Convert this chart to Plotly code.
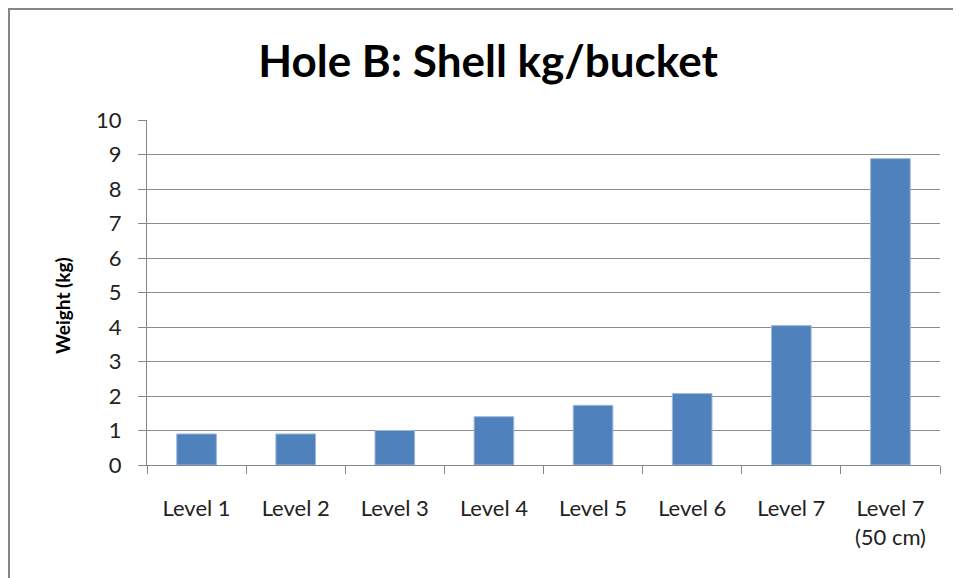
import plotly.graph_objects as go

categories = ["Level 1", "Level 2", "Level 3", "Level 4", "Level 5", "Level 6", "Level 7", "Level 7<br>(50 cm)"]
weights = [0.9, 0.9, 1.0, 1.4, 1.73, 2.07, 4.04, 8.88]
y_ticks = list(range(0, 11))

# page body has an 8px offset; figure is sized to fit the 961x578 window
OFF = 8
W, H = 961 - OFF, 578 - OFF
L, R, T, B = 147 - OFF, 21, 120 - OFF, 113
pw, ph = W - L - R, H - T - B

fig = go.Figure(go.Bar(
    x=categories, y=weights,
    marker=dict(color="#4F81BD", line=dict(color="#9DB8DD", width=1)),
))

fig.update_layout(
    width=W, height=H,
    margin=dict(l=L, r=R, t=T, b=B),
    paper_bgcolor="white", plot_bgcolor="white",
    bargap=0.6,
    showlegend=False,
    title=dict(text="<b>Hole B: Shell kg/bucket</b>", x=(488 - OFF) / W, xanchor="center",
               y=1 - (62 - OFF) / H, yanchor="middle",
               font=dict(family="Lato", size=44, color="black")),
    font=dict(family="Lato", color="black"),
)
fig.update_xaxes(
    type="category", tickson="boundaries", ticks="outside", ticklen=8,
    tickcolor="#868686", showline=True, linecolor="#868686", linewidth=1,
    tickfont=dict(size=22, family="Lato", color="#222"),
    ticklabelstandoff=24,
)
fig.update_yaxes(
    range=[0, 10], tickvals=y_ticks, ticks="outside", ticklen=8,
    tickcolor="#868686", showline=True, linecolor="#868686", linewidth=1,
    showgrid=True, gridcolor="#8C8C8C", gridwidth=1,
    tickfont=dict(size=22, family="Lato", color="#222"),
    ticklabelstandoff=12,
    zeroline=False,
)
# y-axis title placed like the original (slightly below the plot centre)
fig.add_annotation(text="<b>Weight (kg)</b>", textangle=-90, showarrow=False,
                   xref="paper", yref="paper",
                   x=(62 - 147) / pw, y=(465 - 306) / ph,
                   xanchor="center", yanchor="middle",
                   font=dict(size=19, family="Lato", color="black"))
# outer chart border (left and top visible, right/bottom beyond the window)
fig.add_shape(type="rect", xref="paper", yref="paper",
              x0=(1 - L) / pw, x1=(W + 5 - L) / pw,
              y0=-(H + 5 - T - ph) / ph, y1=1 + (T - 1) / ph,
              line=dict(color="#868686", width=2), layer="below")

fig.write_html("out.html")
